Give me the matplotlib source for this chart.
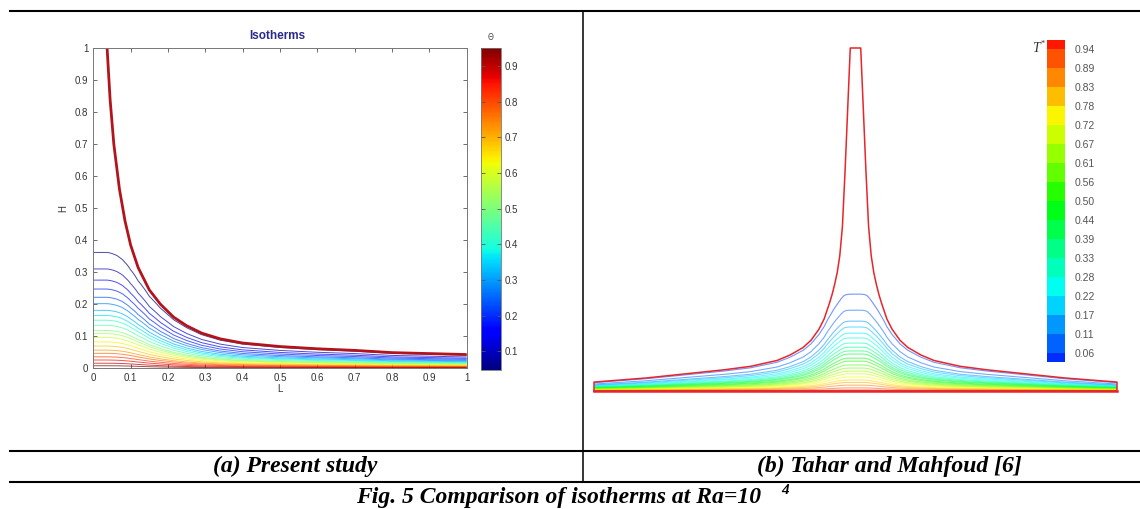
import numpy as np
import matplotlib
matplotlib.use("Agg")
import matplotlib.pyplot as plt
from matplotlib.lines import Line2D
from matplotlib.colors import Normalize, LinearSegmentedColormap
from matplotlib.cm import ScalarMappable
from matplotlib.ticker import FuncFormatter

# ---------------- data ----------------
# (a) present study: upper (cold) wall profile H(L)
wall_L = [0.037, 0.045, 0.055, 0.07, 0.085, 0.10, 0.12, 0.15, 0.18, 0.215,
          0.25, 0.29, 0.34, 0.40, 0.50, 0.60, 0.70, 0.80, 0.90, 1.00]
wall_H = [1.00, 0.84, 0.70, 0.56, 0.46, 0.385, 0.315, 0.245, 0.20, 0.16,
          0.133, 0.11, 0.092, 0.079, 0.068, 0.061, 0.056, 0.049, 0.046, 0.043]
# isotherm levels and their heights on the symmetry line L = 0
iso_levels = [0.05, 0.095, 0.14, 0.185, 0.23, 0.275, 0.32, 0.365, 0.41, 0.455, 0.50,
              0.545, 0.59, 0.635, 0.68, 0.725, 0.77, 0.815, 0.86, 0.905, 0.95]
iso_heights = [0.364, 0.312, 0.277, 0.249, 0.223, 0.203, 0.182, 0.166, 0.151, 0.135, 0.119,
               0.109, 0.097, 0.083, 0.070, 0.057, 0.047, 0.036, 0.026, 0.016, 0.008]
cbar_ticks = [0.1, 0.2, 0.3, 0.4, 0.5, 0.6, 0.7, 0.8, 0.9]
axis_ticks = [0, 0.1, 0.2, 0.3, 0.4, 0.5, 0.6, 0.7, 0.8, 0.9, 1.0]

# (b) Tahar and Mahfoud: full (symmetric) cavity
ref_wall_L = [0.02, 0.03, 0.04, 0.05, 0.06, 0.07, 0.08, 0.09, 0.10, 0.12, 0.14,
              0.17, 0.20, 0.25, 0.30, 0.40, 0.50, 0.60, 0.70, 0.80, 0.90, 1.00]
ref_wall_H = [1.00, 0.82, 0.64, 0.48, 0.395, 0.345, 0.31, 0.28, 0.255, 0.21, 0.18,
              0.148, 0.127, 0.105, 0.089, 0.072, 0.062, 0.054, 0.046, 0.038, 0.032, 0.026]
ref_levels = [0.05, 0.093, 0.136, 0.179, 0.221, 0.264, 0.307, 0.35, 0.393, 0.436, 0.479,
              0.521, 0.564, 0.607, 0.65, 0.693, 0.736, 0.779, 0.821, 0.864, 0.907, 0.95]
ref_heights = [0.283, 0.236, 0.204, 0.187, 0.169, 0.155, 0.140, 0.128, 0.117, 0.108, 0.096,
               0.087, 0.076, 0.067, 0.058, 0.050, 0.041, 0.032, 0.025, 0.017, 0.009, 0.003]
ref_cbar_labels = ["0.06", "0.11", "0.17", "0.22", "0.28", "0.33", "0.39", "0.44", "0.50",
                   "0.56", "0.61", "0.67", "0.72", "0.78", "0.83", "0.89", "0.94"]

# ---------------- helpers ----------------
W, HP = 1140, 509


def fx(px):
    return px / W


def fy(py):
    return 1 - py / HP


def rect(x0, y0, x1, y1):
    return [x0 / W, 1 - y1 / HP, (x1 - x0) / W, (y1 - y0) / HP]


def temperature_field(X, Y, wL, wH, levels, heights, core, p=4.0):
    """Isotherms follow the centre-line profile, squeezed under the cold wall."""
    Hw = np.interp(np.abs(X), wL, wH)
    gap = (core ** -p + Hw ** -p) ** (-1.0 / p)
    eta = Y * core / gap
    h_asc = [0.0] + list(heights[::-1]) + [core]
    t_asc = [1.0] + list(levels[::-1]) + [0.0]
    return np.interp(eta.ravel(), h_asc, t_asc).reshape(eta.shape)


fig = plt.figure(figsize=(11.4, 5.09), dpi=100)
fig.patch.set_facecolor("white")

# ---------------- (a) left panel ----------------
ax = fig.add_axes(rect(93.3, 48.3, 466.7, 368.3))
xg = np.linspace(0, 1, 600)
yg = np.linspace(0, 0.42, 900)
X, Y = np.meshgrid(xg, yg)
T = temperature_field(X, Y, wall_L, wall_H, iso_levels, iso_heights, core=0.38)
norm_a = Normalize(0.047, 0.952)
ax.contour(X, Y, T, levels=sorted(iso_levels), cmap="jet", norm=norm_a,
           linewidths=0.7, alpha=0.7)
ax.plot(wall_L, wall_H, color="#b3141c", lw=2.0, solid_capstyle="butt")
ax.set_xlim(0, 1)
ax.set_ylim(0, 1)
ax.set_xticks(axis_ticks)
ax.set_yticks(axis_ticks)
fmt = FuncFormatter(lambda v, _: "%g" % v)
ax.xaxis.set_major_formatter(fmt)
ax.yaxis.set_major_formatter(fmt)
ax.tick_params(direction="in", length=3, width=0.6, color="#555555",
               labelcolor="#333333", labelsize=7, top=True, right=True, pad=3.5)
for lab in ax.get_xticklabels() + ax.get_yticklabels():
    lab.set_family("Liberation Sans")
for s in ax.spines.values():
    s.set_color("#777777")
    s.set_linewidth(0.7)

fig.text(fx(277), fy(36), "Isotherms", ha="center", va="center",
         family="Liberation Sans", weight="bold", size=8.5, color="#2a2a8c")
fig.text(fx(63), fy(208), "H", ha="center", va="center", rotation=90,
         family="Liberation Sans", size=7, color="#333333")
fig.text(fx(280), fy(389), "L", ha="center", va="center",
         family="Liberation Sans", size=7, color="#333333")

cax = fig.add_axes(rect(481, 47.7, 501, 370))
cb = fig.colorbar(ScalarMappable(norm=norm_a, cmap="jet"), cax=cax)
cb.set_ticks(cbar_ticks)
cb.ax.yaxis.set_major_formatter(fmt)
cb.outline.set_edgecolor("#777777")
cb.outline.set_linewidth(0.6)
cax.tick_params(direction="in", length=3, width=0.6, color="#555555",
                labelcolor="#333333", labelsize=7, left=True, right=True, pad=2.5)
for lab in cax.get_yticklabels():
    lab.set_family("Liberation Sans")
fig.text(fx(491), fy(38), "\u0398", ha="center", va="center",
         family="DejaVu Sans", size=5.5, color="#444444")

# ---------------- (b) right panel ----------------
rainbow = LinearSegmentedColormap.from_list(
    "rainbow_hsv", [plt.get_cmap("hsv")((1 - v) * 2 / 3) for v in np.linspace(0, 1, 256)])

axr = fig.add_axes(rect(594, 48, 1117, 391))
xr = np.linspace(-1, 1, 1400)
yr = np.linspace(0, 0.32, 700)
XR, YR = np.meshgrid(xr, yr)
TR = temperature_field(XR, YR, ref_wall_L, ref_wall_H, ref_levels, ref_heights, core=0.30)
axr.contour(XR, YR, TR, levels=sorted(ref_levels), cmap=rainbow, vmin=0, vmax=1,
            linewidths=0.8, alpha=0.55)
rL = np.array(ref_wall_L)
rH = np.array(ref_wall_H)
bx = np.concatenate([[-1.0], -rL[::-1], rL, [1.0, -1.0]])
by = np.concatenate([[0.0], rH[::-1], rH, [0.0, 0.0]])
axr.plot(bx, by, color="#e8252a", lw=1.1, clip_on=False)
axr.plot([-1, 1], [0, 0], color="#e8252a", lw=1.8, clip_on=False)
axr.set_xlim(-1, 1)
axr.set_ylim(0, 1)
axr.axis("off")

# stepped legend bar
cax2 = fig.add_axes(rect(1047, 40, 1065, 362))
edges = np.arange(19) / 18.0
centers = (edges[:-1] + edges[1:]) / 2
cax2.pcolormesh([0, 1], edges, centers.reshape(-1, 1), cmap=rainbow, vmin=0, vmax=1,
                shading="flat")
cax2.set_ylim(1 / 36, 35 / 36)
cax2.set_xlim(0, 1)
cax2.set_xticks([])
cax2.yaxis.tick_right()
cax2.set_yticks(edges[1:-1])
cax2.set_yticklabels(ref_cbar_labels)
cax2.tick_params(axis="y", length=0, pad=7, labelsize=7.5, labelcolor="#555555")
for lab in cax2.get_yticklabels():
    lab.set_family("Liberation Sans")
for s in cax2.spines.values():
    s.set_visible(False)
fig.text(fx(1036), fy(49), "T", ha="center", va="center", family="Liberation Serif",
         style="italic", size=10, color="#333344")
fig.text(fx(1043), fy(44), "*", ha="center", va="center", family="Liberation Serif",
         size=6, color="#333344")

# ---------------- table frame and captions ----------------
frame = dict(color="black", solid_capstyle="butt")
fig.add_artist(Line2D([fx(9), fx(1140)], [fy(11), fy(11)], lw=1.5, **frame))
fig.add_artist(Line2D([fx(583), fx(583)], [fy(11), fy(482)], lw=1.1, **frame))
fig.add_artist(Line2D([fx(9), fx(1140)], [fy(451), fy(451)], lw=1.5, **frame))
fig.add_artist(Line2D([fx(9), fx(1140)], [fy(482), fy(482)], lw=1.5, **frame))

cap = dict(family="Liberation Serif", weight="bold", style="italic", size=17,
           ha="center", va="center", color="black")
fig.text(fx(295), fy(466), "(a) Present study", **cap)
fig.text(fx(889), fy(466), "(b) Tahar and Mahfoud [6]", **cap)
fig.text(fx(562), fy(497), "Fig. 5 Comparison of isotherms at Ra=10 ", **cap)
fig.text(fx(785), fy(491), "4", family="Liberation Serif", weight="bold", style="italic",
         size=11, ha="center", va="center", color="black")

fig.savefig("out.png", dpi=100)
